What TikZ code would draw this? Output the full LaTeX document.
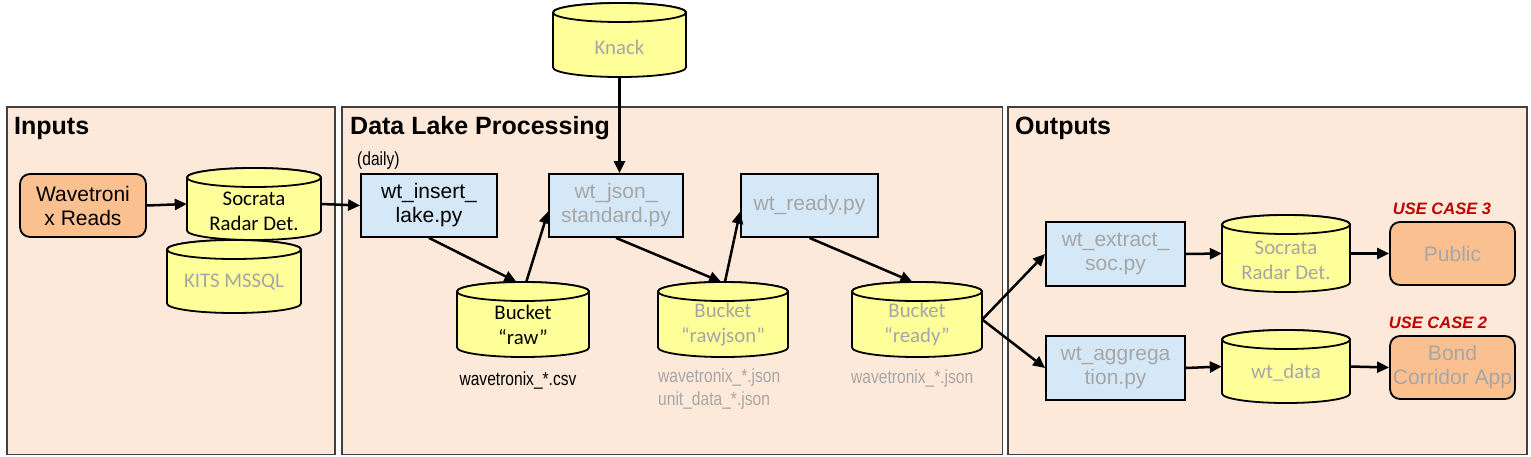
\documentclass[tikz,border=0pt]{standalone}
\usepackage{fontspec}
\setmainfont{Liberation Sans}
\newfontfamily\calfont{Carlito}
\newfontfamily\narrowfont[FakeStretch=0.82]{Liberation Sans}
\usetikzlibrary{arrows.meta}
\definecolor{panelfill}{HTML}{FDE9D9}
\definecolor{panelline}{HTML}{404040}
\definecolor{cylfill}{HTML}{FFFF99}
\definecolor{boxblue}{HTML}{D5E8F7}
\definecolor{boxorange}{HTML}{FAC090}
\definecolor{txtgray}{HTML}{A6A6A6}
\definecolor{ucred}{HTML}{C00000}
\tikzset{
  panel/.style={draw=panelline, fill=panelfill, line width=1.5pt},
  paneltitle/.style={anchor=west, font=\bfseries\fontsize{25}{29}\selectfont, inner sep=0pt},
  pybox/.style={draw=black, fill=boxblue, line width=1.8pt, inner sep=0pt, align=center, font=\fontsize{21}{24}\selectfont},
  endbox/.style={pybox, fill=boxorange, rounded corners=10pt},
  cylbody/.style={draw=black, fill=cylfill, line width=1.8pt},
  cyltext/.style={align=center, font=\calfont\fontsize{20.8}{25}\selectfont, inner sep=0pt},
  flow/.style={line width=2.5pt, -{Triangle[length=12pt,width=11pt]}},
  filelabel/.style={font=\narrowfont\fontsize{19}{23}\selectfont, inner sep=0pt, align=left},
  usecase/.style={font=\bfseries\itshape\fontsize{16.5}{20}\selectfont, text=ucred, inner sep=0pt},
}
% #1 name, #2 x1, #3 top, #4 x2, #5 bottom, #6 text, #7 text colour, #8 text shift
\newcommand\mycyl[8]{%
  \pgfmathsetmacro\cylcx{(#2+#4)/2}%
  \pgfmathsetmacro\cylcy{(#3+#5)/2}%
  \pgfmathsetmacro\cylrx{(#4-#2)/2}%
  \pgfmathsetmacro\cylw{#4-#2}%
  \pgfmathsetmacro\cylh{#5-#3}%
  \pgfmathsetmacro\cylyt{#3+9.5}%
  \pgfmathsetmacro\cylyb{#5-9.5}%
  \filldraw[cylbody] (#2,\cylyt) -- (#2,\cylyb)
     arc[start angle=180, end angle=360, x radius=\cylrx pt, y radius=9.5pt]
     -- (#4,\cylyt)
     arc[start angle=0, end angle=180, x radius=\cylrx pt, y radius=9.5pt] -- cycle;
  \draw[cylbody] (\cylcx,\cylyt) ellipse[x radius=\cylrx pt, y radius=9.5pt];
  \node[inner sep=0pt, minimum width=\cylw pt, minimum height=\cylh pt] (#1) at (\cylcx,\cylcy) {};
  \node[cyltext, text=#7] (#1-t) at (\cylcx,{\cylcy+#8}) {#6};
}
\begin{document}
\begin{tikzpicture}[x=1pt, y=-1pt]
\useasboundingbox (0,0) rectangle (1531,456);

% panels
\filldraw[panel] (7,107) rectangle (335,454.5);
\filldraw[panel] (342,107) rectangle (1002.5,454.5);
\filldraw[panel] (1008,107) rectangle (1527,454.5);
\node[paneltitle] (t-in) at (14,128) {Inputs};
\node[paneltitle] (t-dl) at (350,128) {Data Lake Processing};
\node[paneltitle] (t-out) at (1015,128) {Outputs};

% inputs
\node[endbox, minimum width=126pt, minimum height=63pt] (wav) at (83,205.5) {Wavetroni\\x Reads};
\mycyl{kits}{167}{240}{301}{313}{KITS MSSQL}{txtgray}{5.5}
\mycyl{socin}{187}{168}{321}{240}{Socrata\\Radar Det.}{black}{7}

% data lake
\mycyl{knack}{553}{3}{686}{77}{Knack}{txtgray}{7}
\node[filelabel, anchor=west] (daily) at (357,161) {(daily)};
\node[pybox, minimum width=136pt, minimum height=63pt] (ins) at (429,205.5) {wt\_insert\_\\lake.py};
\node[pybox, minimum width=134pt, minimum height=63pt, text=txtgray] (json) at (616,205.5) {wt\_json\_\\standard.py};
\node[pybox, minimum width=137pt, minimum height=63pt, text=txtgray] (readypy) at (809.5,205.5) {wt\_ready.py};
\mycyl{raw}{457}{282}{589}{357}{Bucket\\“raw”}{black}{5}
\mycyl{rawjson}{658}{282}{788}{357}{Bucket\\“rawjson”}{txtgray}{5}
\mycyl{bready}{852}{282}{982}{357}{Bucket\\“ready”}{txtgray}{5}
\node[filelabel] (lab-raw) at (518,380) {wavetronix\_*.csv};
\node[filelabel, text=txtgray, anchor=north west] (lab-rawjson) at (658,369) {wavetronix\_*.json\\unit\_data\_*.json};
\node[filelabel, text=txtgray, anchor=west] (lab-ready) at (851,379) {wavetronix\_*.json};

% outputs
\node[pybox, minimum width=139pt, minimum height=64pt, text=txtgray] (ext) at (1115.5,254) {wt\_extract\_\\soc.py};
\node[pybox, minimum width=139pt, minimum height=64pt, text=txtgray] (agg) at (1115.5,368) {wt\_aggrega\\tion.py};
\mycyl{socout}{1222}{215}{1350}{292}{Socrata\\Radar Det.}{txtgray}{7}
\mycyl{wtdata}{1222}{330}{1350}{403}{wt\_data}{txtgray}{6.5}
\node[endbox, minimum width=125pt, minimum height=63pt, text=txtgray] (public) at (1452.5,253.5) {Public};
\node[endbox, minimum width=125pt, minimum height=63pt, text=txtgray] (bond) at (1452.5,367.5) {Bond\\Corridor App};
\node[usecase] (uc3) at (1442,209) {USE CASE 3};
\node[usecase] (uc2) at (1438,323) {USE CASE 2};

% connectors
\draw[flow] (wav.east) -- (socin.west);
\draw[flow] (socin.east) -- (ins.west);
\draw[flow] (ins.south) -- (raw.100);
\draw[flow] (raw.85) -- (json.185);
\draw[flow] (knack.south) -- (knack.south |- json.north);
\draw[flow] (json.south) -- (rawjson.93);
\draw[flow] (rawjson.87) -- (readypy.185);
\draw[flow] (readypy.south) -- (bready.97);
\draw[flow] (bready.east) -- (ext.west);
\draw[flow] (bready.east) -- (agg.west);
\draw[flow] (ext.east) -- (socout.west);
\draw[flow] (socout.east) -- (public.west);
\draw[flow] (agg.east) -- (wtdata.west);
\draw[flow] (wtdata.east) -- (bond.west);
\end{tikzpicture}
\end{document}
